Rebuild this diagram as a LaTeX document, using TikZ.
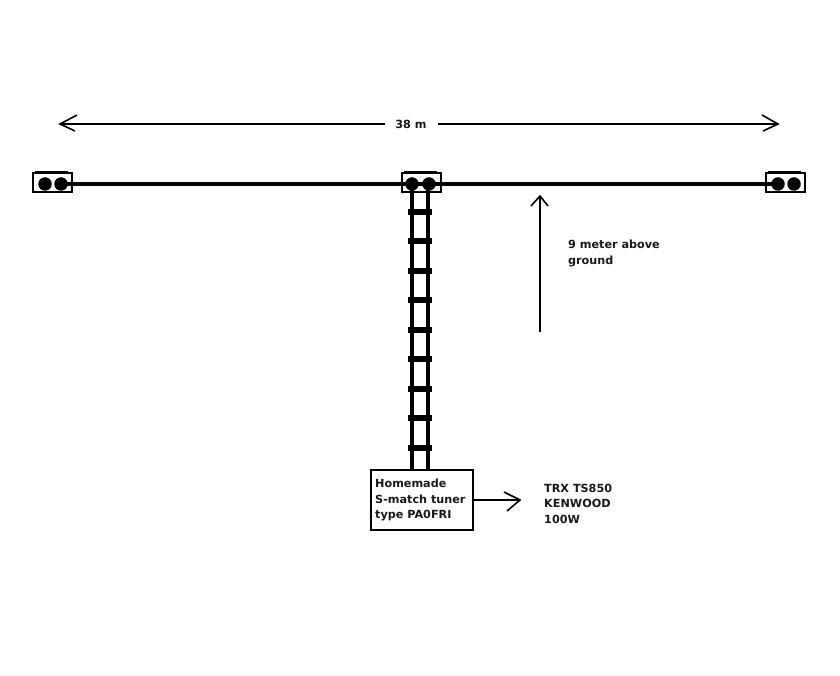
\documentclass[tikz,border=0pt]{standalone}
\usepackage{fontspec}
\setmainfont{DejaVu Sans}
\begin{document}
\begin{tikzpicture}[x=1pt,y=-1pt,
  label text/.style={font=\bfseries\fontsize{11.2}{15.8}\selectfont,text=black!90,inner sep=0pt,anchor=north west,align=left},
  insulator/.style={draw,line width=2pt,minimum width=39pt,minimum height=19pt,inner sep=0pt,fill=white},
  ball/.style={circle,fill=black,minimum size=13.5pt,inner sep=0pt},
  wire/.style={line width=4pt},
  rung/.style={line width=5.5pt},
  thin line/.style={line width=1.7pt},
  open tip/.style={line width=1.6pt}
]
\useasboundingbox (0,0) rectangle (840,676);
\fill[white] (0,0) rectangle (840,676);
% insulators
\node[insulator] (insL) at (52.5,183) {};
\node[insulator] (insM) at (421,183) {};
\node[insulator] (insR) at (785,183) {};
\draw[line width=3pt] (insL.north west) ++(3,0.3) -- ++(33,0);
\draw[line width=3pt] (insM.north west) ++(3,0.3) -- ++(33,0);
\draw[line width=3pt] (insR.north west) ++(3,0.3) -- ++(33,0);
% tuner
\node[draw,line width=1.7pt,minimum width=102pt,minimum height=60pt,inner sep=0pt,fill=white] (tuner) at (422,500) {};
% balls
\node[ball] (l1) at (45,184) {};
\node[ball] (l2) at (61,184) {};
\node[ball] (m1) at (412,184) {};
\node[ball] (m2) at (429,184) {};
\node[ball] (r1) at (778,184) {};
\node[ball] (r2) at (794,184) {};
% wire
\draw[wire] (l2.center) -- (r1.center);
% ladder line
\coordinate (b1) at (412,470);
\coordinate (b2) at (428,470);
\draw[line width=4.5pt] (m1.center) -- (b1);
\draw[line width=4.5pt] (428,184) -- (b2);
\foreach \y in {212,241,271,300,330,359,389,418,448}
  \draw[rung] (408,\y) -- (432,\y);
% span arrow
\node[label text,anchor=center] (span) at (411,124.5) {38 m};
\coordinate (tipL) at (60,124);
\coordinate (tipR) at (778,124);
\draw[thin line] (tipL) -- (385,124);
\draw[thin line] (438,124) -- (tipR);
\draw[open tip] (77,115) -- (tipL) -- (75,131);
\draw[open tip] (762,115) -- (tipR) -- (763,131);
% height arrow
\coordinate (hB) at (540,332);
\coordinate (hT) at (540,196);
\draw[thin line] (hB) -- (hT);
\draw[open tip] (531,206) -- (hT) -- (548,206);
\node[label text] (height) at (568,239.5) {9 meter above\\ground};
% tuner text and output
\node[label text] (tunertext) at (375,478.5) {Homemade\\S-match tuner\\type PA0FRI};
\coordinate (outTip) at (520,500);
\draw[thin line] (tuner.east) -- (outTip);
\draw[open tip] (504,492) -- (outTip) -- (507,511);
\node[label text] (trx) at (544,483.5) {TRX TS850\\KENWOOD\\100W};
\end{tikzpicture}
\end{document}
